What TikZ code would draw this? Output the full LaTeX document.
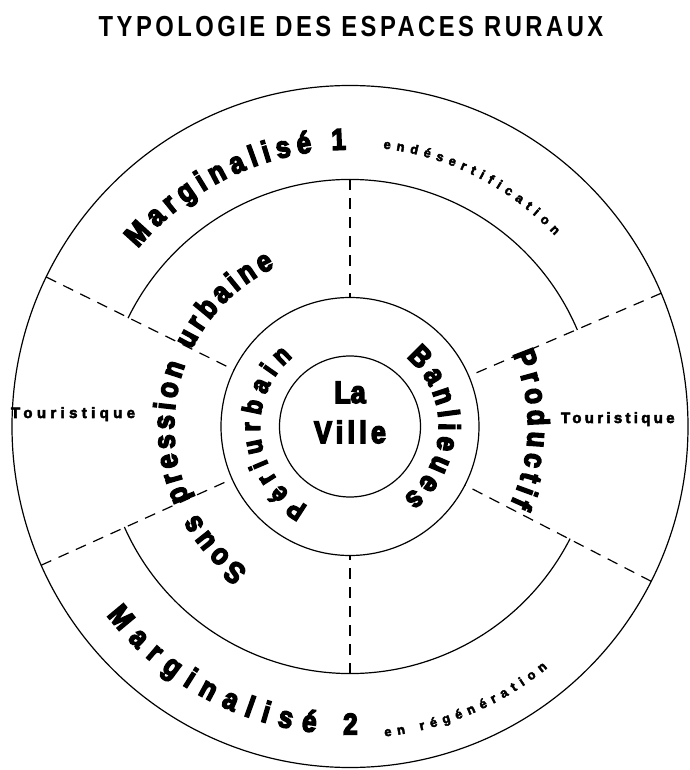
\documentclass[tikz,border=0pt]{standalone}
\usepackage{fontspec}
\usetikzlibrary{decorations.text}
\newfontfamily\hv{Liberation Sans}[FakeStretch=0.82]
\newfontfamily\hx{Liberation Sans}[UprightFont={* Bold}, FakeStretch=0.86, FakeBold=5]
\newfontfamily\hy{Liberation Sans}[UprightFont={* Bold}, FakeBold=3.5]
\newcommand\bigf{\hx\fontsize{30}{31}\selectfont}
\newcommand\midf{\hx\fontsize{27}{28}\selectfont}
\newcommand\smallf{\hy\fontsize{13}{14}\selectfont}
\tikzset{
  ring/.style={line width=1.2pt},
  sepline/.style={line width=1.2pt, dash pattern=on 11pt off 8pt},
  arctext/.style={decorate, decoration={text along path, text align={fit to path}, text={#1}}},
  lbl/.style={inner sep=0pt, outer sep=0pt}
}
\begin{document}
\begin{tikzpicture}
\useasboundingbox (-350pt,-343.5pt) rectangle (339pt,426.5pt);

% title
\node[lbl, anchor=base, font=\hv\bfseries\fontsize{29}{30}\selectfont\addfontfeature{LetterSpace=12}] (title) at (1pt,389.5pt) {TYPOLOGIE DES ESPACES RURAUX};

% circles
\node[ring, draw, circle, minimum size=141pt, inner sep=0pt] (ville) at (0,0) {};
\node[ring, draw, circle, minimum size=258pt, inner sep=0pt] (peri) at (0,0) {};
\draw[ring] (0,0) ellipse [x radius=338pt, y radius=341pt];
\draw[ring] (23:247pt) arc[start angle=23, end angle=154, radius=247pt];
\draw[ring] (204:247pt) arc[start angle=204, end angle=333, radius=247pt];

% named points
\coordinate (m90) at (90:247pt);
\coordinate (m270) at (270:247pt);
\foreach \a in {23,154,204,333}{
  \coordinate (o\a) at (\a:338pt and 341pt);
  \coordinate (p\a) at (\a:129pt);
}
\coordinate (p90) at (90:129pt);
\coordinate (p270) at (270:129pt);

% dashed separators
\draw[sepline] (m90) -- (p90);
\draw[sepline] (m270) -- (p270);
\foreach \a in {23,154,204,333}{
  \draw[sepline] (o\a) -- (p\a);
}

% centre
\node[lbl, anchor=base, font=\hx\fontsize{31}{32}\selectfont] (la) at (0pt,23.5pt) {La};
\node[lbl, anchor=base, font=\hx\fontsize{31}{32}\selectfont\addfontfeature{LetterSpace=14}] (villetxt) at (0pt,-16.5pt) {Ville};

% curved texts
\path[arctext={|\bigf|Marginalisé 1}] (140:277pt) arc[start angle=140, end angle=90.8, radius=277pt];
\path[arctext={|\smallf|endésertification}] (83.2:280pt) arc[start angle=83.2, end angle=43, radius=280pt];
\path[arctext={|\bigf|Marginalisé 2}] (217.8:308pt) arc[start angle=217.8, end angle=271.4, radius=308pt];
\path[arctext={|\smallf|en régénération}] (276.4:312pt) arc[start angle=276.4, end angle=309.3, radius=312pt];
\path[arctext={|\midf|Périurbain}] (242:90pt) arc[start angle=242, end angle=129.5, radius=90pt];
\path[arctext={|\bigf|Banlieues}] (50.8:89pt) arc[start angle=50.8, end angle=-53, radius=89pt];
\path[arctext={|\bigf|Sous pression urbaine}] (234.5:176pt) arc[start angle=234.5, end angle=115.3, radius=176pt];
\path[arctext={|\bigf|Productif}] (24:178pt) arc[start angle=24, end angle=-25.6, radius=178pt];

% side labels
\node[lbl, anchor=base west, font=\hy\fontsize{15}{16}\selectfont\addfontfeature{LetterSpace=29}] (tour1) at (-339pt,8.5pt) {Touristique};
\node[lbl, anchor=base west, font=\hy\fontsize{15}{16}\selectfont\addfontfeature{LetterSpace=22}] (tour2) at (211pt,3.5pt) {Touristique};
\end{tikzpicture}
\end{document}
